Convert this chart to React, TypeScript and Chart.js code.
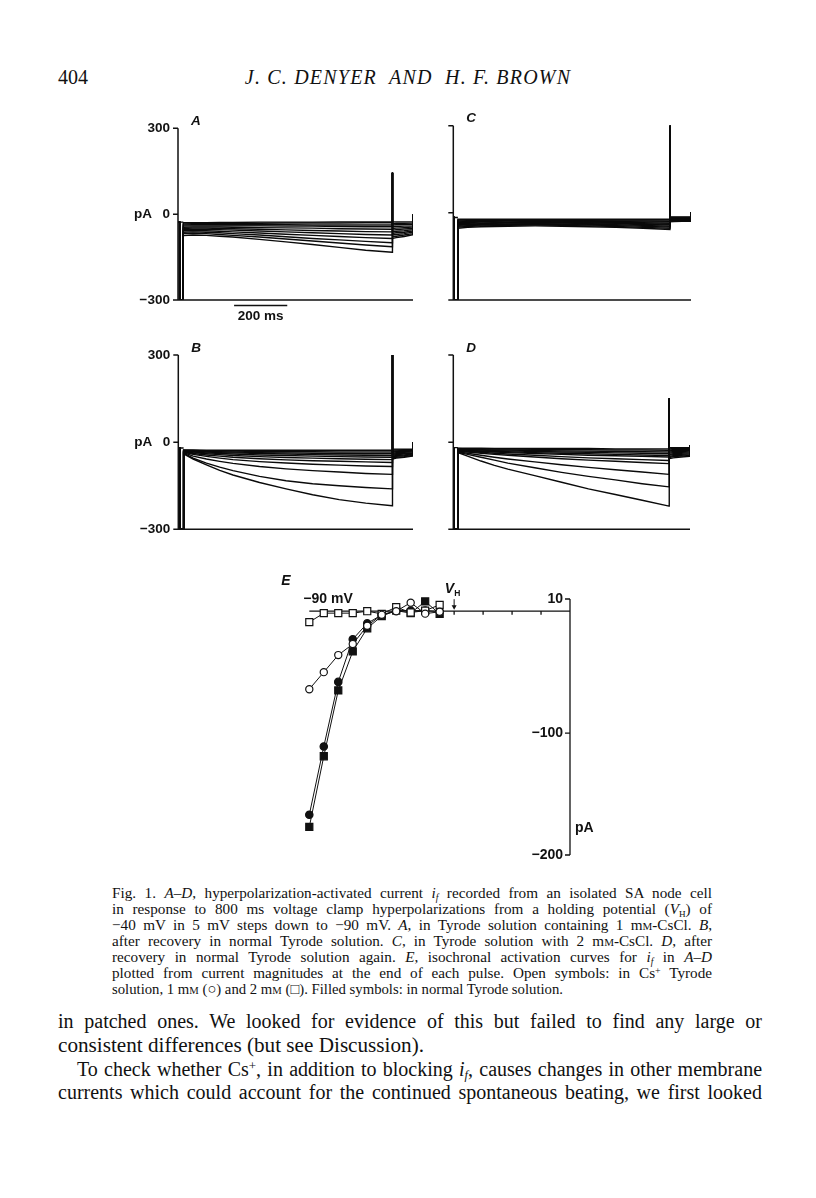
import React, { useEffect, useLayoutEffect, useRef } from "react";
import { Chart, registerables } from "chart.js";

Chart.register(...registerables);

// ---------- Panels A–D (current traces, pA vs ms) ----------
const PULSE_T = [14, 50, 100, 150, 200, 300, 400, 500, 600, 700, 800];
const SPIKE_T = 800.5;
const TAIL_T = [801, 815, 845, 876];
const END_T = 877;
const CURRENT_TICKS = [300, 0, -300];
const SCALE_BAR_MS = [205, 405];

const A_HOLD = -28;
const A_SPIKE = 145;
const A_END = -2;
const A_PULSE = [
  [-30, -30, -30, -29, -29, -28, -28, -28, -27, -27, -27],
  [-34, -33, -33, -32, -32, -32, -31, -31, -31, -30, -30],
  [-38, -37, -37, -37, -37, -37, -37, -38, -38, -38, -38],
  [-42, -41, -41, -41, -41, -41, -42, -42, -43, -44, -44],
  [-46, -45, -45, -45, -46, -47, -48, -49, -51, -52, -53],
  [-50, -49, -49, -50, -51, -53, -55, -57, -59, -61, -62],
  [-54, -53, -53, -54, -56, -59, -62, -65, -68, -71, -73],
  [-58, -57, -58, -60, -62, -66, -70, -74, -78, -82, -85],
  [-63, -62, -63, -65, -68, -73, -79, -85, -90, -95, -100],
  [-68, -67, -68, -71, -74, -80, -87, -94, -101, -108, -114],
  [-75, -73, -74, -77, -80, -88, -97, -106, -116, -126, -133],
];
const A_TAIL = [
  [-27, -27, -27, -27],
  [-33, -32, -32, -31],
  [-38, -37, -36, -36],
  [-44, -43, -42, -41],
  [-50, -49, -47, -45],
  [-56, -54, -52, -50],
  [-62, -60, -58, -54],
  [-67, -65, -63, -59],
  [-73, -71, -68, -63],
  [-79, -77, -73, -68],
  [-85, -82, -78, -72],
];

const B_HOLD = -20;
const B_SPIKE = 330;
const B_END = 0;
const B_PULSE = [
  [-27, -27, -28, -28, -28, -28, -28, -28, -28, -28, -28],
  [-28, -29, -30, -31, -31, -32, -33, -33, -34, -34, -34],
  [-29, -31, -32, -33, -34, -36, -37, -38, -39, -40, -40],
  [-30, -32, -34, -36, -37, -39, -41, -43, -44, -45, -46],
  [-31, -34, -37, -39, -41, -44, -46, -48, -50, -51, -52],
  [-32, -36, -40, -43, -46, -50, -53, -55, -57, -59, -60],
  [-33, -39, -44, -48, -52, -57, -61, -64, -66, -68, -70],
  [-34, -42, -49, -55, -60, -67, -72, -76, -79, -82, -84],
  [-36, -48, -58, -66, -73, -84, -92, -98, -103, -108, -111],
  [-38, -55, -72, -86, -98, -118, -133, -143, -150, -156, -161],
  [-40, -58, -78, -97, -113, -139, -161, -181, -198, -210, -219],
];
const B_TAIL = [
  [-24, -24, -24, -23],
  [-27, -27, -26, -25],
  [-31, -30, -29, -28],
  [-34, -33, -32, -31],
  [-38, -36, -35, -33],
  [-41, -40, -38, -36],
  [-44, -43, -41, -38],
  [-48, -46, -44, -41],
  [-51, -49, -47, -43],
  [-55, -52, -50, -46],
  [-58, -55, -52, -48],
];

const C_HOLD = -16;
const C_SPIKE = 330;
const C_END = 3;
const C_PULSE = [
  [-22, -22, -22, -22, -22, -22, -22, -22, -22, -22, -22],
  [-25, -24, -24, -24, -24, -24, -24, -25, -25, -25, -25],
  [-28, -27, -27, -26, -26, -26, -26, -27, -28, -28, -29],
  [-31, -30, -29, -29, -28, -28, -29, -29, -30, -31, -32],
  [-34, -33, -32, -31, -31, -30, -31, -32, -33, -34, -36],
  [-37, -36, -35, -34, -33, -33, -33, -34, -36, -37, -39],
  [-40, -39, -37, -36, -35, -35, -35, -37, -38, -40, -42],
  [-43, -41, -40, -39, -38, -37, -38, -39, -41, -43, -46],
  [-46, -44, -42, -41, -40, -39, -40, -42, -44, -46, -49],
  [-49, -47, -45, -44, -43, -42, -43, -45, -47, -50, -53],
  [-53, -50, -48, -47, -46, -45, -46, -48, -50, -53, -57],
];
const C_TAIL = [
  [-14, -14, -14, -14],
  [-16, -16, -16, -15],
  [-17, -17, -17, -17],
  [-19, -19, -18, -18],
  [-21, -20, -20, -20],
  [-23, -22, -22, -21],
  [-24, -24, -23, -23],
  [-26, -25, -25, -24],
  [-28, -27, -26, -26],
  [-29, -29, -28, -27],
  [-31, -30, -29, -29],
];

const D_HOLD = -19;
const D_SPIKE = 150;
const D_END = -10;
const D_PULSE = [
  [-21, -21, -21, -22, -22, -22, -22, -22, -23, -23, -23],
  [-22, -23, -23, -24, -24, -25, -26, -26, -27, -27, -28],
  [-24, -25, -26, -27, -27, -29, -30, -31, -32, -33, -34],
  [-25, -26, -27, -29, -30, -32, -34, -35, -37, -38, -40],
  [-27, -28, -30, -32, -33, -36, -38, -40, -42, -44, -46],
  [-28, -30, -32, -34, -36, -39, -42, -45, -47, -49, -51],
  [-30, -32, -35, -38, -41, -45, -50, -54, -57, -60, -63],
  [-31, -34, -38, -42, -45, -51, -57, -62, -66, -70, -74],
  [-33, -38, -45, -52, -58, -68, -78, -87, -95, -103, -111],
  [-35, -42, -52, -62, -72, -88, -104, -118, -130, -143, -154],
  [-36, -48, -65, -80, -93, -115, -138, -161, -180, -200, -220],
];
const D_TAIL = [
  [-19, -19, -19, -19],
  [-23, -22, -22, -22],
  [-27, -26, -25, -25],
  [-30, -29, -29, -28],
  [-34, -33, -32, -31],
  [-38, -36, -35, -34],
  [-42, -40, -38, -37],
  [-45, -43, -42, -40],
  [-49, -47, -45, -43],
  [-53, -50, -48, -46],
  [-57, -54, -51, -49],
];

// ---------- Panel E (isochronal activation, pA vs mV) ----------
const E_MV = [-90, -85, -80, -75, -70, -65, -60, -55, -50, -45];
const E_OPEN_CIRCLE = [-64, -50, -36, -27, -12, -3, 0, 7, -2, -0.5];
const E_OPEN_SQUARE = [-9, -1.6, -1.6, -1.6, 0, -2.2, 3.3, -1.1, 0.5, 5.2];
const E_FILLED_CIRCLE = [-167, -111, -58, -23, -10, -3, 0.5, 0.5, 0.5, -0.3];
const E_FILLED_SQUARE = [-177, -119, -65, -33, -14, -4, 0.5, -1.6, 8, -2.2];
const E_MV_TICKS = [-80, -70, -60, -50, -40, -30, -20, -10];
const E_PA_TICKS = [10, -100, -200];
const E_PA_LABELS = ["10", "\u2212100", "\u2212200"];
const E_VH = -40;

const SANS = '"Liberation Sans", Arial, Helvetica, sans-serif';
const SERIF = '"Liberation Serif", "Times New Roman", serif';

type PanelProps = {
  left: number;
  top: number;
  width: number;
  height: number;
  pad: { left: number; right: number; top: number; bottom: number };
  xmin: number;
  xmax: number;
  hold: number;
  spike: number;
  endVal: number;
  pulse: number[][];
  tail: number[][];
  letter: string;
  labels: boolean;
  scaleBar: boolean;
};

function TracePanel(p: PanelProps) {
  const ref = useRef<HTMLCanvasElement>(null);
  useEffect(() => {
    const datasets: any[] = p.pulse.map((vals, k) => {
      const pts: { x: number; y: number }[] = [
        { x: p.xmin, y: p.hold },
        { x: 0, y: p.hold },
        { x: 0, y: -300 },
        { x: PULSE_T[0], y: -300 },
      ];
      PULSE_T.forEach((t, i) => pts.push({ x: t, y: vals[i] }));
      pts.push({ x: SPIKE_T, y: p.spike });
      TAIL_T.forEach((t, i) => pts.push({ x: t, y: p.tail[k][i] }));
      pts.push({ x: END_T, y: p.endVal });
      return {
        data: pts,
        borderColor: "#0a0a0a",
        borderWidth: 1.4,
        pointRadius: 0,
        tension: 0,
        fill: false,
      };
    });
    datasets.push({
      data: [
        { x: 0, y: p.hold },
        { x: PULSE_T[0], y: p.hold },
      ],
      borderColor: "#0a0a0a",
      borderWidth: 1.4,
      pointRadius: 0,
      fill: false,
    });

    const axes = {
      id: "traceAxes",
      afterDraw(chart: any) {
        const { ctx, chartArea: a, scales } = chart;
        const y = scales.y;
        const x = scales.x;
        ctx.save();
        ctx.strokeStyle = "#111";
        ctx.lineWidth = 1.5;
        ctx.beginPath();
        ctx.moveTo(a.left, y.getPixelForValue(300));
        ctx.lineTo(a.left, y.getPixelForValue(-300));
        ctx.moveTo(a.left - 5, a.bottom);
        ctx.lineTo(a.right, a.bottom);
        CURRENT_TICKS.forEach((v) => {
          const py = y.getPixelForValue(v);
          ctx.moveTo(a.left - 5, py);
          ctx.lineTo(a.left, py);
        });
        ctx.stroke();
        ctx.fillStyle = "#111";
        ctx.textBaseline = "middle";
        if (p.labels) {
          ctx.font = `bold 13.5px ${SANS}`;
          ctx.textAlign = "right";
          ctx.fillText("300", a.left - 8, y.getPixelForValue(300));
          ctx.fillText("0", a.left - 8, y.getPixelForValue(0));
          ctx.fillText("pA", a.left - 26, y.getPixelForValue(0));
          ctx.fillText("\u2212300", a.left - 8, y.getPixelForValue(-300));
        }
        ctx.font = `italic bold 13.5px ${SANS}`;
        ctx.textAlign = "left";
        ctx.fillText(p.letter, a.left + 13, y.getPixelForValue(300) - 7);
        if (p.scaleBar) {
          const x1 = x.getPixelForValue(SCALE_BAR_MS[0]);
          const x2 = x.getPixelForValue(SCALE_BAR_MS[1]);
          ctx.lineWidth = 1.5;
          ctx.beginPath();
          ctx.moveTo(x1, a.bottom + 5.5);
          ctx.lineTo(x2, a.bottom + 5.5);
          ctx.stroke();
          ctx.font = `bold 13.5px ${SANS}`;
          ctx.textAlign = "center";
          ctx.fillText("200 ms", (x1 + x2) / 2, a.bottom + 16.5);
        }
        ctx.restore();
      },
    };

    const chart = new Chart(ref.current as HTMLCanvasElement, {
      type: "line",
      data: { datasets },
      options: {
        responsive: false,
        animation: false,
        events: [],
        layout: { padding: p.pad },
        scales: {
          x: { type: "linear", min: p.xmin, max: p.xmax, display: false },
          y: { type: "linear", min: -300, max: 300, display: false },
        },
        plugins: {
          legend: { display: false },
          tooltip: { enabled: false },
          title: { display: false },
        },
      },
      plugins: [axes],
    } as any);
    return () => chart.destroy();
  }, []);
  return (
    <canvas
      ref={ref}
      width={p.width}
      height={p.height}
      style={{ position: "absolute", left: p.left, top: p.top, width: p.width, height: p.height }}
    />
  );
}

function PanelE() {
  const ref = useRef<HTMLCanvasElement>(null);
  useEffect(() => {
    const mk = (vals: number[], style: string, radius: number, fill: string) => ({
      data: E_MV.map((v, i) => ({ x: v, y: vals[i] })),
      borderColor: "#111",
      borderWidth: 1,
      pointStyle: style,
      pointRadius: radius,
      pointBackgroundColor: fill,
      pointBorderColor: "#111",
      pointBorderWidth: 1.2,
      tension: 0,
      fill: false,
      clip: false,
    });
    const datasets = [
      mk(E_OPEN_CIRCLE, "circle", 3.6, "#fff"),
      mk(E_OPEN_SQUARE, "rect", 5, "#fff"),
      mk(E_FILLED_CIRCLE, "circle", 3.7, "#111"),
      mk(E_FILLED_SQUARE, "rect", 5, "#111"),
    ];
    const axes = {
      id: "eAxes",
      beforeDatasetsDraw(chart: any) {
        const { ctx, scales } = chart;
        const x = scales.x;
        const y = scales.y;
        const y0 = y.getPixelForValue(0);
        const xl = x.getPixelForValue(-90);
        const xr = x.getPixelForValue(0);
        ctx.save();
        ctx.strokeStyle = "#111";
        ctx.lineWidth = 1.3;
        ctx.beginPath();
        ctx.moveTo(xl, y0);
        ctx.lineTo(xr, y0);
        E_MV_TICKS.forEach((v) => {
          const px = x.getPixelForValue(v);
          ctx.moveTo(px, y0);
          ctx.lineTo(px, y0 + 3.5);
        });
        ctx.moveTo(xr, y.getPixelForValue(10));
        ctx.lineTo(xr, y.getPixelForValue(-200));
        E_PA_TICKS.forEach((v) => {
          const py = y.getPixelForValue(v);
          ctx.moveTo(xr - 5, py);
          ctx.lineTo(xr, py);
        });
        ctx.stroke();
        const xa = x.getPixelForValue(E_VH);
        ctx.lineWidth = 1;
        ctx.beginPath();
        ctx.moveTo(xa, y0 - 12);
        ctx.lineTo(xa, y0 - 5);
        ctx.stroke();
        ctx.fillStyle = "#111";
        ctx.beginPath();
        ctx.moveTo(xa - 2.5, y0 - 6);
        ctx.lineTo(xa + 2.5, y0 - 6);
        ctx.lineTo(xa, y0 - 1.5);
        ctx.closePath();
        ctx.fill();
        ctx.restore();
      },
      afterDraw(chart: any) {
        const { ctx, scales } = chart;
        const x = scales.x;
        const y = scales.y;
        const y0 = y.getPixelForValue(0);
        const xl = x.getPixelForValue(-90);
        const xr = x.getPixelForValue(0);
        ctx.save();
        ctx.fillStyle = "#111";
        ctx.textBaseline = "middle";
        ctx.font = `bold 14px ${SANS}`;
        ctx.textAlign = "right";
        E_PA_TICKS.forEach((v, i) => {
          ctx.fillText(E_PA_LABELS[i], xr - 7, y.getPixelForValue(v));
        });
        ctx.textAlign = "left";
        ctx.fillText("pA", xr + 5, y.getPixelForValue(-178));
        ctx.fillText("\u221290 mV", xl - 6, y0 - 12);
        ctx.font = `italic bold 14px ${SANS}`;
        ctx.fillText("E", xl - 28, y0 - 30.5);
        const xa = x.getPixelForValue(E_VH);
        ctx.textAlign = "right";
        ctx.fillText("V", xa, y0 - 22);
        ctx.font = `bold 8.5px ${SANS}`;
        ctx.textAlign = "left";
        ctx.fillText("H", xa, y0 - 18);
        ctx.restore();
      },
    };
    const chart = new Chart(ref.current as HTMLCanvasElement, {
      type: "line",
      data: { datasets },
      options: {
        responsive: false,
        animation: false,
        events: [],
        layout: { padding: { left: 44.3, right: 30, top: 34, bottom: 10 } },
        scales: {
          x: { type: "linear", min: -90, max: 0, display: false },
          y: { type: "linear", min: -200, max: 10, display: false },
        },
        plugins: {
          legend: { display: false },
          tooltip: { enabled: false },
          title: { display: false },
        },
      },
      plugins: [axes],
    } as any);
    return () => chart.destroy();
  }, []);
  return (
    <canvas
      ref={ref}
      width={335}
      height={300}
      style={{ position: "absolute", left: 265, top: 565, width: 335, height: 300 }}
    />
  );
}

const SC = ({ children }: { children: any }) => (
  <span style={{ fontVariant: "small-caps" }}>{children}</span>
);
const IF = () => (
  <>
    <i>i</i>
    <span style={{ fontSize: "0.62em", position: "relative", top: "0.3em", fontStyle: "italic" }}>f</span>
  </>
);
const MM = () => (
  <>
    m<SC>m</SC>
  </>
);
const SUP_PLUS = () => (
  <span style={{ fontSize: "0.65em", position: "relative", top: "-0.45em" }}>+</span>
);

// mode: "justify" spreads words to width w; "fit" scales the line to width w; "none" leaves it natural
function TextLine(props: {
  x: number;
  cy: number;
  w: number;
  size: number;
  mode: "justify" | "fit" | "none" | "center";
  children: any;
  italic?: boolean;
  spacing?: number;
}) {
  const ref = useRef<HTMLSpanElement>(null);
  const lh = Math.round(props.size * 1.3);
  const off = lh / 2 - props.size * 0.03;
  useLayoutEffect(() => {
    const el = ref.current;
    if (!el) return;
    el.style.wordSpacing = "0px";
    el.style.transform = "none";
    const nat = el.getBoundingClientRect().width;
    const spaces = ((el.textContent || "").match(/ /g) || []).length;
    if (props.mode === "justify") {
      if (nat < props.w && spaces > 0) {
        el.style.wordSpacing = (props.w - nat) / spaces + "px";
      } else if (nat > props.w) {
        el.style.transform = `scaleX(${props.w / nat})`;
      }
    } else if (props.mode === "fit" && nat > 0) {
      el.style.transform = `scaleX(${props.w / nat})`;
    }
  }, []);
  return (
    <div
      style={{
        position: "absolute",
        left: props.x,
        top: props.cy - off,
        width: props.w,
        fontFamily: SERIF,
        fontSize: props.size,
        lineHeight: lh + "px",
        fontStyle: props.italic ? "italic" : "normal",
        letterSpacing: props.spacing ?? 0,
        whiteSpace: "nowrap",
        textAlign: props.mode === "center" ? "center" : "left",
        color: "#111",
      }}
    >
      <span ref={ref} style={{ display: "inline-block", transformOrigin: "0 50%" }}>
        {props.children}
      </span>
    </div>
  );
}

export default function App() {
  const capX = 112;
  const capW = 600;
  const capS = 15.2;
  const bodyX = 58;
  const bodyW = 704;
  const bodyS = 20;
  return (
    <div
      style={{
        position: "absolute",
        left: 0,
        top: 0,
        width: 816,
        height: 1198,
        background: "#fff",
        overflow: "hidden",
      }}
    >
      <TextLine x={58} cy={76} w={60} size={20} mode="none">
        404
      </TextLine>
      <TextLine x={208} cy={76} w={400} size={20} mode="center" italic spacing={1.2}>
        J. C. DENYER&nbsp; AND&nbsp; H. F. BROWN
      </TextLine>

      <TracePanel
        left={120}
        top={100}
        width={310}
        height={225}
        pad={{ left: 58, right: 17, top: 28.3, bottom: 25 }}
        xmin={-6}
        xmax={878}
        hold={A_HOLD}
        spike={A_SPIKE}
        endVal={A_END}
        pulse={A_PULSE}
        tail={A_TAIL}
        letter="A"
        labels={true}
        scaleBar={true}
      />
      <TracePanel
        left={430}
        top={100}
        width={270}
        height={225}
        pad={{ left: 23.3, right: 9, top: 25.7, bottom: 25 }}
        xmin={-3}
        xmax={878}
        hold={C_HOLD}
        spike={C_SPIKE}
        endVal={C_END}
        pulse={C_PULSE}
        tail={C_TAIL}
        letter="C"
        labels={false}
        scaleBar={false}
      />
      <TracePanel
        left={120}
        top={325}
        width={310}
        height={215}
        pad={{ left: 58.3, right: 17, top: 30, bottom: 10.7 }}
        xmin={-6}
        xmax={878}
        hold={B_HOLD}
        spike={B_SPIKE}
        endVal={B_END}
        pulse={B_PULSE}
        tail={B_TAIL}
        letter="B"
        labels={true}
        scaleBar={false}
      />
      <TracePanel
        left={430}
        top={325}
        width={270}
        height={215}
        pad={{ left: 23.3, right: 10, top: 30, bottom: 10.7 }}
        xmin={-3}
        xmax={878}
        hold={D_HOLD}
        spike={D_SPIKE}
        endVal={D_END}
        pulse={D_PULSE}
        tail={D_TAIL}
        letter="D"
        labels={false}
        scaleBar={false}
      />
      <PanelE />

      <TextLine x={capX} cy={892.5} w={capW} size={capS} mode="justify">
        Fig. 1. <i>A–D</i>, hyperpolarization-activated current <IF /> recorded from an isolated SA node cell
      </TextLine>
      <TextLine x={capX} cy={908.5} w={capW} size={capS} mode="justify">
        in response to 800 ms voltage clamp hyperpolarizations from a holding potential (<i>V</i>
        <span style={{ fontSize: "0.6em", position: "relative", top: "0.3em" }}>H</span>) of
      </TextLine>
      <TextLine x={capX} cy={924.5} w={capW} size={capS} mode="justify">
        −40 mV in 5 mV steps down to −90 mV. <i>A</i>, in Tyrode solution containing 1 <MM />-CsCl. <i>B</i>,
      </TextLine>
      <TextLine x={capX} cy={940.5} w={capW} size={capS} mode="justify">
        after recovery in normal Tyrode solution. <i>C</i>, in Tyrode solution with 2 <MM />-CsCl. <i>D</i>, after
      </TextLine>
      <TextLine x={capX} cy={956.5} w={capW} size={capS} mode="justify">
        recovery in normal Tyrode solution again. <i>E</i>, isochronal activation curves for <IF /> in <i>A–D</i>
      </TextLine>
      <TextLine x={capX} cy={972.5} w={capW} size={capS} mode="justify">
        plotted from current magnitudes at the end of each pulse. Open symbols: in Cs<SUP_PLUS /> Tyrode
      </TextLine>
      <TextLine x={capX} cy={988.5} w={451} size={capS} mode="fit">
        solution, 1 <MM /> (○) and 2 <MM /> (□). Filled symbols: in normal Tyrode solution.
      </TextLine>

      <TextLine x={bodyX} cy={1020} w={bodyW} size={bodyS} mode="justify">
        in patched ones. We looked for evidence of this but failed to find any large or
      </TextLine>
      <TextLine x={bodyX} cy={1044} w={366} size={bodyS} mode="fit">
        consistent differences (but see Discussion).
      </TextLine>
      <TextLine x={bodyX + 19} cy={1068} w={bodyW - 19} size={bodyS} mode="justify">
        To check whether Cs<SUP_PLUS />, in addition to blocking <IF />, causes changes in other membrane
      </TextLine>
      <TextLine x={bodyX} cy={1091} w={bodyW} size={bodyS} mode="justify">
        currents which could account for the continued spontaneous beating, we first looked
      </TextLine>
    </div>
  );
}
